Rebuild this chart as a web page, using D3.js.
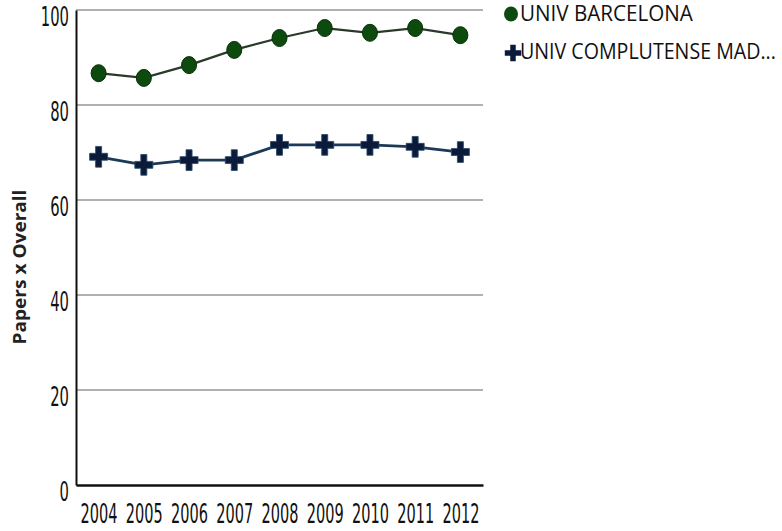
<!DOCTYPE html>
<html><head><meta charset="utf-8">
<script src="https://cdn.jsdelivr.net/npm/d3@7"></script>
<style>
body{margin:0;background:#fff;}
text{font-family:"DejaVu Sans",sans-serif;}
</style></head>
<body>
<svg id="chart" width="782" height="531"></svg>
<script>
const years = ["2004","2005","2006","2007","2008","2009","2010","2011","2012"];
const barcelona = [86.7, 85.7, 88.4, 91.6, 94.1, 96.2, 95.2, 96.2, 94.7];
const complutense = [69.1, 67.4, 68.4, 68.4, 71.6, 71.6, 71.6, 71.2, 70.1];
const yTicks = [0, 20, 40, 60, 80, 100];
const seriesNames = ["UNIV BARCELONA", "UNIV COMPLUTENSE MAD..."];

const svg = d3.select("#chart");
const mLeft = 76, mRight = 483, mTop = 10, mBottom = 485;
const x = d3.scalePoint().domain(years).range([mLeft, mRight]).padding(0.5);
const y = d3.scaleLinear().domain([0, 100]).range([mBottom, mTop]);

// squeeze a text horizontally to a target width (keeps its real bbox honest)
function fit(textSel, tx, ty, width, sy, rot) {
  textSel.each(function () {
    const len = this.getComputedTextLength();
    const w = typeof width === "function" ? width(d3.select(this).datum()) : width;
    const sx = w / len;
    d3.select(this).attr("x", 0).attr("y", 0).attr("dy", null)
      .attr("transform", `translate(${tx},${ty})${rot ? ` rotate(${rot})` : ""} scale(${sx},${sy})`);
  });
}

// gridlines
svg.append("g").selectAll("line").data(yTicks.filter(d => d > 0)).join("line")
  .attr("x1", mLeft).attr("x2", mRight)
  .attr("y1", d => y(d)).attr("y2", d => y(d))
  .attr("stroke", "#b0b0b0").attr("stroke-width", 2);

// axes
const yAxis = svg.append("g").attr("transform", `translate(${mLeft},0)`)
  .call(d3.axisLeft(y).tickValues(yTicks).tickSize(0));
yAxis.select(".domain").attr("stroke", "#111").attr("stroke-width", 2);
yAxis.selectAll("text").attr("font-size", 20).attr("fill", "#111");
fit(yAxis.selectAll("text"), -7, 15, d => String(d).length * 9.4, 1.35);

const xAxis = svg.append("g").attr("transform", `translate(0,${mBottom})`)
  .call(d3.axisBottom(x).tickSize(0));
xAxis.select(".domain").attr("stroke", "#111").attr("stroke-width", 2.5);
xAxis.selectAll("text").attr("font-size", 20).attr("fill", "#111");
fit(xAxis.selectAll("text"), 0, 38, 37, 1.35);

// y title
const title = svg.append("text")
  .attr("text-anchor", "middle")
  .attr("font-size", 17).attr("font-weight", "bold").attr("fill", "#222")
  .style("font-family", "'Open Sans',sans-serif")
  .text("Papers x Overall");
fit(title, 26, 267, 155, 1, -90);

// lines
const line = d3.line().x((d, i) => x(years[i])).y(d => y(d));
svg.append("path").datum(barcelona).attr("d", line)
  .attr("fill", "none").attr("stroke", "#2a3a2a").attr("stroke-width", 2.2);
svg.append("path").datum(complutense).attr("d", line)
  .attr("fill", "none").attr("stroke", "#1c3a58").attr("stroke-width", 2.8);

// markers
svg.append("g").selectAll("ellipse").data(barcelona).join("ellipse")
  .attr("cx", (d, i) => x(years[i])).attr("cy", d => y(d)).attr("rx", 7.5).attr("ry", 8.5)
  .attr("fill", "#0d4a0d").attr("stroke", "#0a2e0a").attr("stroke-width", 1);

const cross = d3.symbol().type(d3.symbolCross).size(180);
svg.append("g").selectAll("path").data(complutense).join("path")
  .attr("transform", (d, i) => `translate(${x(years[i])},${y(d)}) scale(1,1.15)`)
  .attr("d", cross).attr("fill", "#0b1a3a").attr("stroke", "#2a4a6a").attr("stroke-width", 0.8);

// legend
const leg = svg.append("g");
leg.append("ellipse").attr("cx", 511).attr("cy", 14).attr("rx", 7).attr("ry", 7.5).attr("fill", "#0d4a0d");
leg.append("path").attr("transform", "translate(513,53)")
  .attr("d", d3.symbol().type(d3.symbolCross).size(150)).attr("fill", "#0b1a3a");
const legW = [173, 256];
leg.selectAll("text.l").data(seriesNames).join("text").attr("class", "l")
  .attr("font-size", 21).attr("fill", "#111")
  .style("font-family", "'Open Sans',sans-serif")
  .text(d => d)
  .each(function (d, i) { fit(d3.select(this), 520, 21 + i * 38, legW[i], 1); });
</script>
</body></html>
